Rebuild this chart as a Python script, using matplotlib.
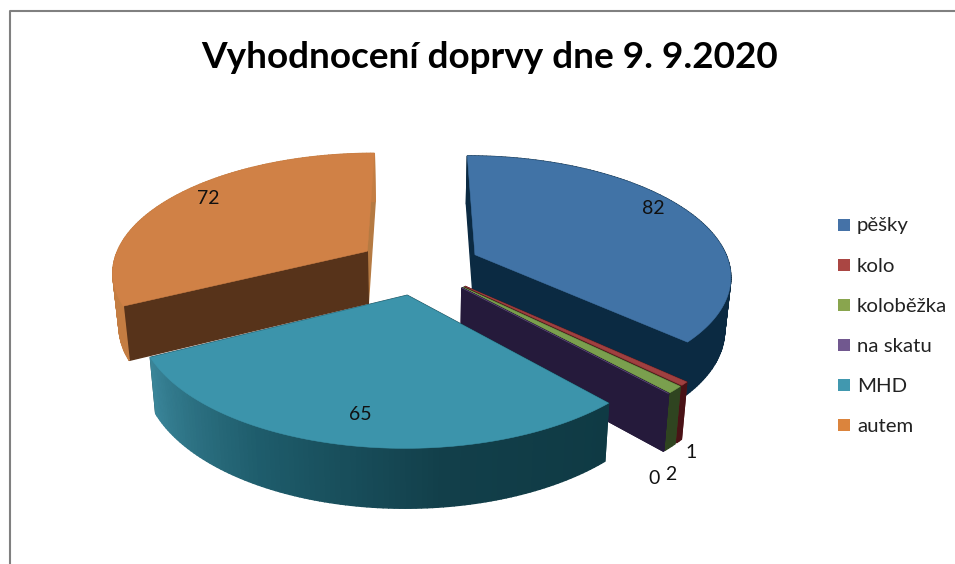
# pie_3d_doprava.py
import numpy as np
import matplotlib
matplotlib.use('Agg')
import matplotlib.pyplot as plt
from matplotlib.colors import LinearSegmentedColormap
from matplotlib.patches import Polygon, Rectangle

# -------------------- Data --------------------
TITLE = 'Vyhodnocení doprvy dne 9. 9.2020'
CATEGORIES = ['pěšky', 'kolo', 'koloběžka', 'na skatu', 'MHD', 'autem']
VALUES = [82, 1, 2, 0, 65, 72]
LABEL_X = [653, 691, 671, 654, 360, 208]
LABEL_Y = [209, 453, 475, 478, 415, 198]

LEGEND_COLORS = ['#4572a7', '#aa4643', '#89a54e', '#71588f', '#4198af', '#db843d']
TOP_COLORS = ['#4173a6', '#a04040', '#7a9f4e', '#71588f', '#3c94ab', '#d08146']
START_COLORS = ['#0b2a42', '#5a1a1c', '#2f4420', '#251a3b', '#123f4a', '#57331a']
END_COLORS = ['#0b2a42', '#5a1a1c', '#2f4420', '#251a3b', '#123f4a', '#b57a42']
WALL_STOPS = [
    ['#0b2a42', '#0b2a42'],
    ['#4a1216', '#4a1216'],
    ['#2f4420', '#2f4420'],
    ['#251a3b', '#251a3b'],
    ['#0f3a44', '#123f4a', '#1e5c6b', '#3a8599'],
    ['#c47d42', '#c47d42'],
]
DRAW_ORDER = [5, 0, 1, 2, 3, 4]

# -------------------- Projection --------------------
CX, CY = 419, 266
R, RT = 255, 118
PERSP = 0.16
EXPLODE = 0.243
FONT = ['Lato', 'DejaVu Sans']


def project(X, Y, down=False):
    """Plane point of the pie to picture pixels, optionally on the bottom face."""
    X, Y = np.asarray(X, float), np.asarray(Y, float)
    s = 1 / (1 - PERSP * Y)
    x = CX + R * X * s
    y = CY + RT * Y * s
    if down:
        y = y + 52 + 0.04 * (y - 250)
        x = CX + (x - CX) * 0.98
    return x, y


def rim(theta, off):
    return off[0] + np.sin(theta), off[1] - np.cos(theta)


def quad(ax, p0, p1, color):
    """Vertical face between two plane points."""
    x0, y0 = project(*p0)
    x1, y1 = project(*p1)
    x2, y2 = project(*p1, down=True)
    x3, y3 = project(*p0, down=True)
    ax.add_patch(Polygon([(x0, y0), (x1, y1), (x2, y2), (x3, y3)],
                         facecolor=color, edgecolor=color, lw=1.0))


def draw_slice(ax, start, end, off, i):
    # radial faces first, then the rim, the top goes over them
    if i == 5:
        quad(ax, off, rim(end, off), END_COLORS[i])
        quad(ax, off, rim(start, off), START_COLORS[i])
    else:
        quad(ax, off, rim(start, off), START_COLORS[i])
        quad(ax, off, rim(end, off), END_COLORS[i])

    cmap = LinearSegmentedColormap.from_list('wall', WALL_STOPS[i])
    n = max(2, int(np.degrees(end - start)))
    edges = np.linspace(start, end, n + 1)
    for k in range(n):
        quad(ax, rim(edges[k], off), rim(edges[k + 1], off), cmap((k + 0.5) / n))

    th = np.linspace(start, end, max(n * 2, 2))
    X, Y = rim(th, off)
    xs, ys = project(np.r_[off[0], X], np.r_[off[1], Y])
    ax.add_patch(Polygon(np.c_[xs, ys], facecolor=TOP_COLORS[i],
                         edgecolor=TOP_COLORS[i], lw=0.4))


def main():
    fig = plt.figure(figsize=(9.55, 5.64), dpi=100)
    ax = fig.add_axes([0, 0, 1, 1])
    ax.set_xlim(0, 955)
    ax.set_ylim(564, 0)
    ax.axis('off')

    # chart frame, only left and top are in the screenshot
    ax.plot([10, 10, 955], [564, 11, 11], color='#808080', lw=1.5, solid_capstyle='butt')

    vals = np.array(VALUES, float)
    bounds = np.r_[0, np.cumsum(vals)] / vals.sum() * 2 * np.pi
    for i in DRAW_ORDER:
        start, end = bounds[i], bounds[i + 1]
        mid = (start + end) / 2
        off = (EXPLODE * np.sin(mid), -EXPLODE * np.cos(mid))
        draw_slice(ax, start, end, off, i)

    for x, y, v in zip(LABEL_X, LABEL_Y, VALUES):
        ax.text(x, y, str(v), ha='center', va='center', fontsize=14,
                family=FONT, color='#111111')

    for k, (name, col) in enumerate(zip(CATEGORIES, LEGEND_COLORS)):
        y = 225 + 40 * k
        ax.add_patch(Rectangle((838, y - 6), 12, 12, facecolor=col, edgecolor='none'))
        ax.text(857, y + 1, name, ha='left', va='center', fontsize=14.7,
                family=FONT, color='#222222')

    ax.text(490, 57, TITLE, ha='center', va='center', fontsize=26.6,
            fontweight='bold', family=FONT, color='black')

    fig.savefig('out.png', dpi=100)


if __name__ == "__main__":
    main()
